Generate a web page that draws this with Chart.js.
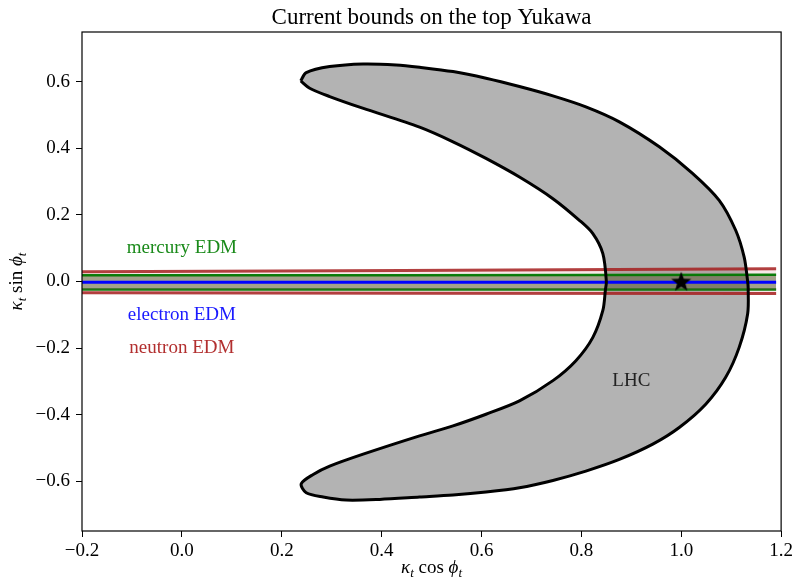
<!DOCTYPE html>
<html>
<head>
<meta charset="utf-8">
<script src="https://cdn.jsdelivr.net/npm/chart.js@4"></script>
<style>
  html, body { margin: 0; padding: 0; background: #fff; }
  #wrap { width: 796px; height: 579px; }
</style>
</head>
<body>
<div id="wrap"><canvas id="chart" width="796" height="579"></canvas></div>
<script>
// tick values
const xTicks = [-0.2, 0.0, 0.2, 0.4, 0.6, 0.8, 1.0, 1.2];
const yTicks = [-0.6, -0.4, -0.2, 0.0, 0.2, 0.4, 0.6];

// LHC allowed region, walked round as one closed outline
const lhcX = [
  0.238, 0.249, 0.296, 0.363, 0.429, 0.476, 0.543, 0.609, 0.676, 0.743, 0.809, 0.876, 0.956, 1.022, 1.076, 1.109, 1.126, 1.133,
  1.134, 1.133, 1.116, 1.089, 1.049, 0.996, 0.943, 0.876, 0.809, 0.743, 0.676, 0.609, 0.543, 0.476, 0.396, 0.329, 0.283, 0.249, 0.239,
  0.263, 0.296, 0.363, 0.476, 0.543, 0.609, 0.676, 0.743, 0.789, 0.823, 0.843, 0.848, 0.850,
  0.843, 0.823, 0.796, 0.743, 0.676, 0.609, 0.543, 0.476, 0.362, 0.296, 0.256, 0.238
];
const lhcY = [
  0.603, 0.628, 0.646, 0.654, 0.651, 0.644, 0.631, 0.611, 0.586, 0.558, 0.525, 0.480, 0.405, 0.326, 0.244, 0.154, 0.073, 0.0,
  -0.020, -0.097, -0.198, -0.288, -0.369, -0.439, -0.489, -0.535, -0.570, -0.598, -0.620, -0.633, -0.642, -0.648, -0.655, -0.657, -0.648, -0.635, -0.608,
  -0.580, -0.555, -0.519, -0.464, -0.434, -0.399, -0.359, -0.298, -0.238, -0.168, -0.087, -0.027, 0.0,
  0.084, 0.144, 0.184, 0.249, 0.314, 0.370, 0.420, 0.464, 0.521, 0.556, 0.581, 0.603
];

// EDM bands (edges in kappa_t sin phi_t)
const bandX = [-0.2, 0.44, 1.19];
const neutronUpper = [0.029, 0.033, 0.038];
const neutronLower = [-0.034, -0.035, -0.036];
const mercuryUpper = [0.019, 0.019, 0.020];
const mercuryLower = [-0.024, -0.024, -0.024];
const electronLine = [-0.002, -0.002, -0.002];

// SM point
const smPoint = [1.0, 0.0];

// text labels
const labelText = ['mercury EDM', 'electron EDM', 'neutron EDM', 'LHC'];
const labelX = [0.0, 0.0, 0.0, 0.9];
const labelY = [0.10, -0.10, -0.20, -0.30];
const labelColor = ['#1a8a1a', '#1a1aff', '#b22f2f', '#222'];

const SERIF = '"Liberation Serif", "DejaVu Serif", serif';

function pts(xs, ys) {
    return xs.map((x, i) => ({ x: x, y: ys[i] }));
}

function fmt(v) {
    const s = Number(v).toFixed(1);
    return s.startsWith('-') ? '\u2212' + s.slice(1) : s;
}

// filled five-point star used as marker
function makeStar(size) {
    const c = document.createElement('canvas');
    c.width = size; c.height = size;
    const g = c.getContext('2d');
    const cx = size / 2, cy = size / 2 + 0.8;
    const ro = size / 2 - 0.5, ri = ro * 0.42;
    g.beginPath();
    for (let i = 0; i < 10; i++) {
        const r = i % 2 === 0 ? ro : ri;
        const a = -Math.PI / 2 + i * Math.PI / 5;
        const px = cx + r * Math.cos(a), py = cy + r * Math.sin(a);
        if (i === 0) g.moveTo(px, py); else g.lineTo(px, py);
    }
    g.closePath();
    g.fillStyle = '#000';
    g.fill();
    return c;
}

// draw pieces of math-ish text: [text, style] with style 'i' italic, 's' subscript, 'n' normal
function drawMath(ctx, parts, size) {
    let w = 0;
    const fonts = parts.map(p => {
        const f = p[1] === 's' ? `italic ${Math.round(size * 0.7)}px ${SERIF}`
            : p[1] === 'i' ? `italic ${size}px ${SERIF}` : `${size}px ${SERIF}`;
        ctx.font = f;
        const pw = ctx.measureText(p[0]).width;
        w += pw;
        return { f, pw };
    });
    let x = -w / 2;
    parts.forEach((p, i) => {
        ctx.font = fonts[i].f;
        ctx.fillText(p[0], x, p[1] === 's' ? size * 0.22 : 0);
        x += fonts[i].pw;
    });
}

const decorPlugin = {
    id: 'decor',
    afterDatasetsDraw(chart) {
        const ctx = chart.ctx;
        const xs = chart.scales.x, ys = chart.scales.y;
        ctx.save();
        ctx.textAlign = 'center';
        ctx.textBaseline = 'middle';
        ctx.font = `19px ${SERIF}`;
        labelText.forEach((t, i) => {
            ctx.fillStyle = labelColor[i];
            ctx.fillText(t, xs.getPixelForValue(labelX[i]), ys.getPixelForValue(labelY[i]));
        });
        ctx.restore();
    },
    afterDraw(chart) {
        const ctx = chart.ctx;
        const a = chart.chartArea;
        ctx.save();
        ctx.strokeStyle = '#000';
        ctx.lineWidth = 1.2;
        ctx.strokeRect(a.left, a.top, a.right - a.left, a.bottom - a.top);

        ctx.fillStyle = '#000';
        ctx.textBaseline = 'alphabetic';
        ctx.textAlign = 'left';
        // title
        ctx.save();
        ctx.translate((a.left + a.right) / 2, 23.5);
        ctx.font = `23px ${SERIF}`;
        ctx.textAlign = 'center';
        ctx.fillText('Current bounds on the top Yukawa', 0, 0);
        ctx.restore();
        // x label
        ctx.save();
        ctx.translate((a.left + a.right) / 2, 573);
        drawMath(ctx, [['\u03ba', 'i'], ['t', 's'], [' cos ', 'n'], ['\u03d5', 'i'], ['t', 's']], 19);
        ctx.restore();
        // y label
        ctx.save();
        ctx.translate(22, (a.top + a.bottom) / 2);
        ctx.rotate(-Math.PI / 2);
        drawMath(ctx, [['\u03ba', 'i'], ['t', 's'], [' sin ', 'n'], ['\u03d5', 'i'], ['t', 's']], 19);
        ctx.restore();
        ctx.restore();
    }
};

const noPoint = { pointRadius: 0, pointHoverRadius: 0, showLine: true, tension: 0 };

new Chart(document.getElementById('chart'), {
    type: 'scatter',
    data: {
        datasets: [
            // first dataset is drawn on top
            {
                label: 'SM', data: [{ x: smPoint[0], y: smPoint[1] }],
                pointStyle: makeStar(22), pointRadius: 11, showLine: false
            },
            {
                label: 'LHC outline', data: pts(lhcX, lhcY), ...noPoint, tension: 0.3,
                borderColor: '#000', borderWidth: 3, fill: false, borderJoinStyle: 'round'
            },
            {
                label: 'electron', data: pts(bandX, electronLine), ...noPoint,
                borderColor: '#0000ff', borderWidth: 3, fill: false
            },
            {
                label: 'mercury up', data: pts(bandX, mercuryUpper), ...noPoint,
                borderColor: 'rgba(0,120,0,0.95)', borderWidth: 2.5,
                fill: '+1', backgroundColor: 'rgba(80,90,45,0.5)'
            },
            {
                label: 'mercury low', data: pts(bandX, mercuryLower), ...noPoint,
                borderColor: 'rgba(0,120,0,0.95)', borderWidth: 2.5, fill: false
            },
            {
                label: 'neutron up', data: pts(bandX, neutronUpper), ...noPoint,
                borderColor: 'rgba(165,30,30,0.85)', borderWidth: 3,
                fill: '+1', backgroundColor: 'rgba(178,34,34,0.10)'
            },
            {
                label: 'neutron low', data: pts(bandX, neutronLower), ...noPoint,
                borderColor: 'rgba(165,30,30,0.85)', borderWidth: 3, fill: false
            },
            {
                label: 'LHC', data: pts(lhcX, lhcY), ...noPoint, tension: 0.3,
                borderWidth: 0, borderColor: 'rgba(0,0,0,0)',
                fill: 'shape', backgroundColor: '#b3b3b3'
            }
        ]
    },
    options: {
        responsive: false,
        animation: false,
        events: [],
        layout: { padding: { top: 32, right: 13, bottom: 0, left: 0 } },
        plugins: {
            legend: { display: false },
            tooltip: { enabled: false },
            title: { display: false }
        },
        scales: {
            x: {
                type: 'linear', min: -0.2, max: 1.2,
                afterBuildTicks: s => { s.ticks = xTicks.map(v => ({ value: v })); },
                afterFit: s => { s.height = 48; },
                grid: { drawOnChartArea: false, drawTicks: true, tickLength: 6, color: '#000' },
                border: { display: false },
                ticks: { color: '#000', padding: 3, maxRotation: 0, font: { family: SERIF, size: 19 }, callback: v => fmt(v) }
            },
            y: {
                type: 'linear', min: -0.75, max: 0.75,
                afterBuildTicks: s => { s.ticks = yTicks.map(v => ({ value: v })); },
                afterFit: s => { s.width = 82; },
                grid: { drawOnChartArea: false, drawTicks: true, tickLength: 6, color: '#000' },
                border: { display: false },
                ticks: { color: '#000', padding: 6, font: { family: SERIF, size: 19 }, callback: v => fmt(v) }
            }
        }
    },
    plugins: [decorPlugin]
});
</script>
</body>
</html>
